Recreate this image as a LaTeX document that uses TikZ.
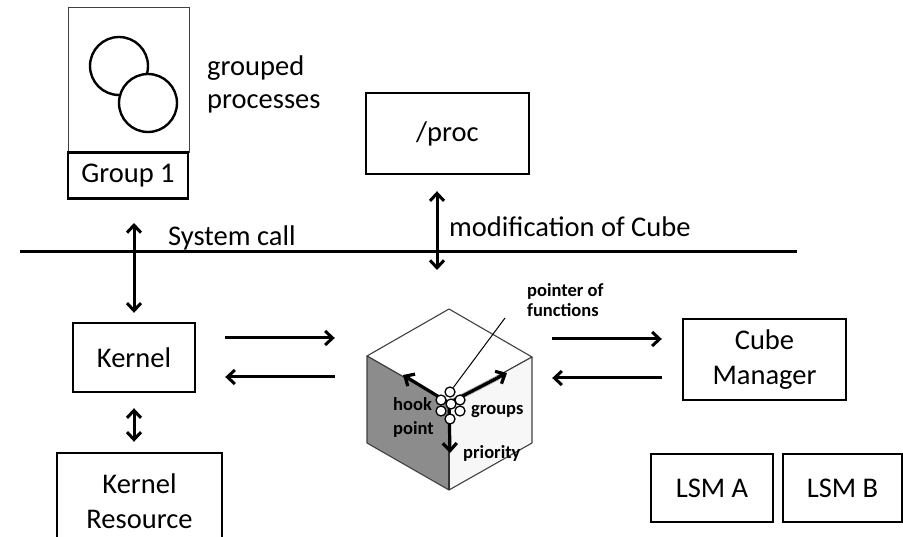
\documentclass[tikz,border=0pt]{standalone}
\usepackage{fontspec}
\setmainfont{Carlito}
\usetikzlibrary{arrows.meta,calc}
\begin{document}
\begin{tikzpicture}[x=1pt,y=-1pt,
  box/.style={draw, line width=2.4pt, inner sep=0pt, align=center, font=\fontsize{28.5}{35}\selectfont},
  lbl/.style={inner sep=0pt, align=left, font=\fontsize{28.5}{33}\selectfont},
  cubelbl/.style={inner sep=0pt, align=left, font=\bfseries\fontsize{18.5}{24}\selectfont},
  tip/.tip={Straight Barb[length=7.5pt,width=14pt]},
  arr/.style={line width=3pt, -tip},
  darr/.style={line width=3pt, tip-tip},
  dot/.style={circle, draw, fill=white, line width=1.3pt, minimum size=10pt, inner sep=0pt},
  proc/.style={circle, draw, fill=white, line width=2.4pt, minimum size=58pt, inner sep=0pt},
  edge/.style={draw=black!75, line width=1.1pt, line join=round},
]
\useasboundingbox (0,0) rectangle (903,537);

% group of processes
\node[draw=black!75, line width=1pt, minimum width=121pt, minimum height=145pt] (grp) at (128.5,80) {};
\node[proc] (p1) at (119,66) {};
\node[proc] (p2) at (148,103) {};
\node[box, minimum width=120pt, minimum height=46pt] (g1) at (128,175.5) {Group 1};
\node[lbl, anchor=west] (gp) at (207,84) {grouped\\processes};

% /proc
\node[box, minimum width=163pt, minimum height=81pt] (proc) at (447.5,133.5) {/proc};

% system call boundary
\coordinate (sl) at (20,252);
\coordinate (sr) at (797,252);
\draw[line width=3pt] (sl) -- (sr);
\node[lbl, anchor=base west] (sc) at (168,246) {System call};
\node[lbl, anchor=base west] (mod) at (449,237) {modification of Cube};

% kernel side
\node[box, minimum width=122pt, minimum height=69pt] (kernel) at (134,357.5) {Kernel};
\node[box, minimum width=165pt, minimum height=96pt] (kres) at (139.5,501) {Kernel\\Resource};
\coordinate (sys) at (134,223);
\draw[darr, shorten >=9pt] (sys) -- (kernel.north);
\draw[darr, shorten <=15pt, shorten >=10pt] (kernel.south) -- (kernel.south |- kres.north);

\coordinate (modend) at (437,270);
\draw[darr, shorten <=16pt] (proc.south -| modend) -- (modend);

% cube manager and LSMs
\node[box, minimum width=163pt, minimum height=81pt, text depth=4pt] (cm) at (764.5,359.5) {Cube\\Manager};
\node[box, minimum width=122pt, minimum height=68pt] (lsma) at (712,488) {LSM A};
\node[box, minimum width=119pt, minimum height=68pt] (lsmb) at (842.5,488) {LSM B};

% the cube
\coordinate (T) at (449,309);
\coordinate (L) at (367,356);
\coordinate (C) at (449,403);
\coordinate (R) at (532,357);
\coordinate (BL) at (367,443);
\coordinate (BR) at (532,443);
\coordinate (B) at (449,490);
\node[inner sep=0pt, minimum width=217pt, minimum height=181pt] (cube) at (443.5,399.5) {};
\filldraw[edge, fill=white] (T) -- (R) -- (C) -- (L) -- cycle;
\filldraw[edge, fill=black!45] (L) -- (C) -- (B) -- (BL) -- cycle;
\filldraw[edge, fill=black!3] (C) -- (R) -- (BR) -- (B) -- cycle;
\draw[line width=1.8pt, black!80] (C) -- (B);

\coordinate (aul) at (403,375);
\coordinate (aur) at (507,373);
\coordinate (ad) at (450,453);
\draw[line width=5pt, black!30] (C) -- ($(C)!0.85!(aur)$);
\draw[arr, line width=3.2pt] (C) -- (aul);
\draw[arr, line width=3.2pt] (C) -- (aur);
\draw[arr, line width=3.2pt] (C) -- (ad);

\node[dot] (c1) at (450,392) {};
\node[dot] (c2) at (441,400) {};
\node[dot] (c3) at (460,400) {};
\node[dot] (c4) at (451,404) {};
\node[dot] (c5) at (441,411) {};
\node[dot] (c6) at (460,411) {};
\node[dot] (c7) at (450,419) {};

\coordinate (ptr) at (505,318);
\draw[line width=1pt] (ptr) -- (c1);
\node[cubelbl, anchor=base west, font=\bfseries\fontsize{18.5}{20}\selectfont] (pf) at (527,297) {pointer of};
\node[cubelbl, anchor=base west, font=\bfseries\fontsize{18.5}{20}\selectfont] (pf2) at (527,317) {functions};
\node[cubelbl, anchor=base west] (hp) at (393,410) {hook};
\node[cubelbl, anchor=base west] (hp2) at (393,435) {point};
\node[cubelbl, anchor=base west] (gr) at (471,415) {groups};
\node[cubelbl, anchor=base west] (pr) at (463,458) {priority};

% kernel <-> cube <-> cube manager
\draw[arr, shorten <=29pt] ([yshift=19.5pt]kernel.east) -- ([yshift=19.5pt]kernel.east -| cube.west);
\draw[arr, shorten >=29pt] ([yshift=-19.5pt]kernel.east -| cube.west) -- ([yshift=-19.5pt]kernel.east);
\draw[arr, shorten >=20pt] ([yshift=20.5pt]cm.west -| cube.east) -- ([yshift=20.5pt]cm.west);
\draw[arr, shorten <=20pt] ([yshift=-18.5pt]cm.west) -- ([yshift=-18.5pt]cm.west -| cube.east);
\end{tikzpicture}
\end{document}
